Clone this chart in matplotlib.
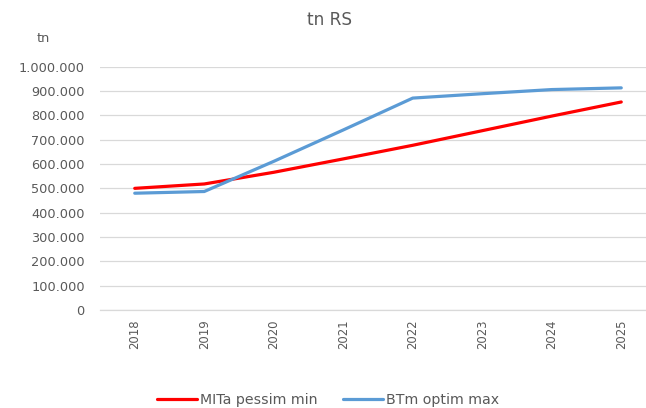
import matplotlib.pyplot as plt
from matplotlib.ticker import FuncFormatter

years = ['2018', '2019', '2020', '2021', '2022', '2023', '2024', '2025']
mita_pessim_min = [500000, 518000, 566000, 621000, 677000, 737000, 797000, 855000]
btm_optim_max = [480000, 487000, 611000, 740000, 871000, 889000, 906000, 913000]

text_color = '#595959'
grid_color = '#D9D9D9'

plt.rcParams['font.family'] = ['DejaVu Sans']

fig = plt.figure(figsize=(6.46, 4.08), dpi=100)
ax = fig.add_axes([100 / 646, 1 - 310 / 408, 556 / 646, 243.3 / 408])

x = range(len(years))
line_red, = ax.plot(x, mita_pessim_min, color='#FF0000', lw=2.3, solid_capstyle='round')
line_blue, = ax.plot(x, btm_optim_max, color='#5B9BD5', lw=2.3, solid_capstyle='round')

ax.set_xlim(-0.5, len(years) - 0.5)
ax.set_ylim(0, 1000000)
ax.set_yticks(range(0, 1000001, 100000))
ax.yaxis.set_major_formatter(FuncFormatter(lambda v, p: f'{int(v):,}'.replace(',', '.')))
ax.set_xticks(list(x))
ax.set_xticklabels(years, rotation=90)

ax.grid(axis='y', color=grid_color, lw=0.9)
ax.set_axisbelow(True)
for side in ['top', 'right', 'left']:
    ax.spines[side].set_visible(False)
ax.spines['bottom'].set_color(grid_color)
ax.spines['bottom'].set_linewidth(0.9)
ax.tick_params(axis='both', length=0, colors=text_color)
ax.tick_params(axis='y', pad=11, labelsize=9.3)
ax.tick_params(axis='x', pad=6.5, labelsize=8.4)

fig.text(330 / 646, 1 - 20 / 408, 'tn RS', ha='center', va='center', fontsize=12.2, color=text_color)
fig.text(43 / 646, 1 - 38 / 408, 'tn', ha='center', va='center', fontsize=9.3, color=text_color)

fig.legend([line_red, line_blue], ['MITa pessim min', 'BTm optim max'],
           loc='center left', bbox_to_anchor=(157 / 646, 1 - 400 / 408), ncol=2,
           frameon=False, fontsize=10.2, labelcolor=text_color,
           handlelength=2.82, handletextpad=0.2, columnspacing=1.84, borderpad=0,
           borderaxespad=0)

fig.savefig('out.png', dpi=100)
